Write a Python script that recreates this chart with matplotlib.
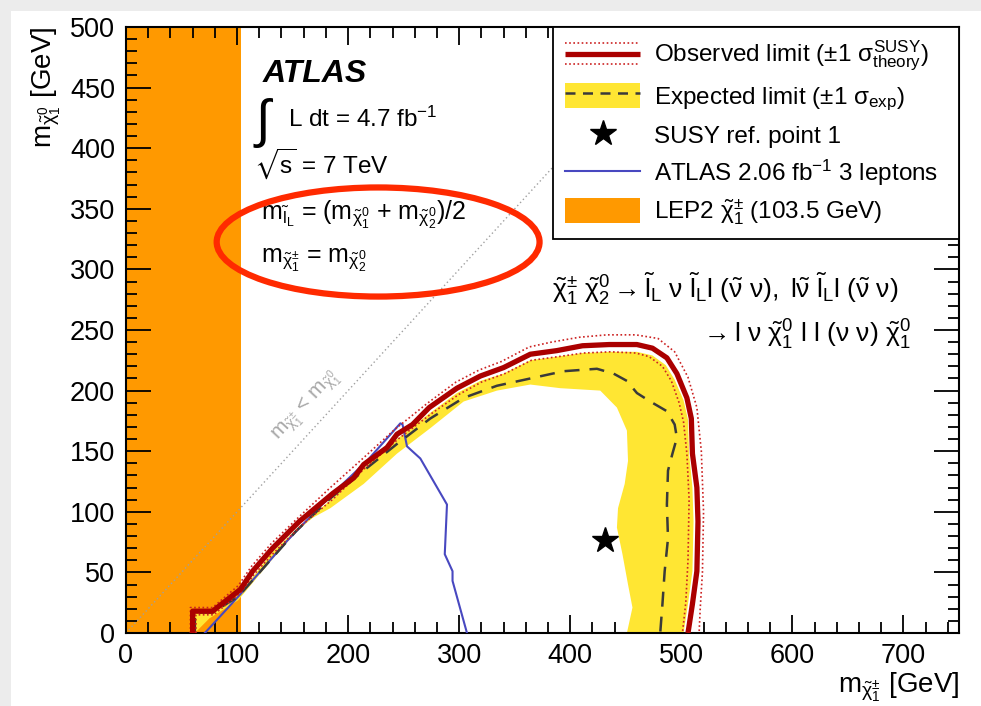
import matplotlib
matplotlib.use("Agg")
import matplotlib.pyplot as plt
from matplotlib.patches import Patch, Ellipse, Rectangle
from matplotlib.lines import Line2D
from matplotlib.legend_handler import HandlerBase
from matplotlib.ticker import MultipleLocator

plt.rcParams["font.family"] = ["Liberation Sans", "DejaVu Sans"]
plt.rcParams["mathtext.fontset"] = "custom"
plt.rcParams["mathtext.rm"] = "Liberation Sans"
plt.rcParams["mathtext.it"] = "Liberation Sans"
plt.rcParams["mathtext.sf"] = "Liberation Sans"
plt.rcParams["mathtext.bf"] = "Liberation Sans:bold"
plt.rcParams["mathtext.fallback"] = "stixsans"

# LEP2 chargino limit [GeV]
lep2_limit = 103.5

# observed 95% CL limit (m_chargino, m_neutralino)
obs_x = [60, 60, 78, 103, 114, 132, 156, 186, 205, 214, 235, 244, 258, 273, 298, 319, 340, 364, 388, 411,
         435, 460, 474, 487, 496, 505, 509, 510, 514, 515, 514, 510, 506]
obs_y = [0, 18, 18, 36, 51, 70, 92, 115, 128, 139, 153, 164, 172, 186, 202, 212, 219, 230, 233, 237,
         238, 238, 235, 227, 214, 194, 177, 148, 120, 92, 51, 24, 0]

# observed +1 sigma theory
up_x = [58, 58, 78, 101, 113, 131, 156, 184, 212, 242, 272, 297, 318, 338, 363, 383, 408, 433, 459, 479,
        494, 506, 514, 518, 520, 519, 517, 516]
up_y = [0, 21, 21, 39, 55, 74, 96, 120, 143, 168, 190, 207, 217, 224, 236, 240, 244, 246, 246, 243,
        232, 211, 186, 150, 100, 50, 20, 0]

# observed -1 sigma theory
dn_x = [63, 63, 79, 103, 115, 133, 157, 187, 214, 245, 275, 300, 320, 341, 365, 389, 412, 436, 459, 471,
        483, 491, 498, 502, 505, 507, 506, 504, 501]
dn_y = [0, 15, 15, 33, 48, 66, 88, 111, 135, 160, 181, 197, 207, 214, 225, 228, 231, 232, 231, 228,
        220, 208, 190, 174, 148, 110, 60, 25, 0]

# expected limit
exp_x = [62, 62, 78, 101, 126, 153, 184, 214, 244, 274, 304, 334, 364, 394, 424, 439, 451, 460, 472, 487,
         494, 496, 492, 488, 487, 488, 485, 483, 481]
exp_y = [0, 17, 17, 30, 56, 84, 111, 134, 156, 177, 194, 204, 210, 216, 218, 214, 208, 198, 191, 183,
         172, 161, 148, 134, 106, 78, 51, 24, 0]

# expected +-1 sigma band: outer edge, then inner edge
band_out_x = [60, 62, 78, 101, 131, 156, 186, 213, 244, 273, 298, 319, 340, 364, 388, 411, 435, 460, 474, 486,
              494, 502, 506, 507, 510, 511, 510, 506, 502]
band_out_y = [0, 16, 17, 31, 66, 88, 111, 135, 160, 181, 198, 208, 214, 225, 228, 231, 232, 232, 229, 221,
              209, 192, 176, 148, 120, 92, 51, 24, 0]
band_in_x = [451, 456, 452, 447, 442, 443, 449, 452, 451, 442, 427, 391, 364, 334, 304, 274, 244, 214, 184, 168,
             154, 131, 101, 75, 62]
band_in_y = [0, 21, 40, 65, 87, 103, 123, 142, 167, 186, 200, 202, 205, 200, 191, 169, 148, 123, 103, 95,
             84, 60, 27, 12, 0]

# ATLAS 2.06 fb-1 3 lepton limit
blue_x = [71, 103, 145, 186, 217, 247, 249, 253, 265, 289, 287, 294, 294, 307]
blue_y = [0, 32, 76, 115, 142, 173, 172, 154, 144, 106, 65, 51, 43, 0]

# SUSY reference point 1
ref_x = [431]
ref_y = [76.5]

# kinematic boundary m_chargino = m_neutralino
diag = [0, 750]

c_orange = "#ff9900"
c_yellow = "#ffe633"
c_obs = "#aa0000"
c_theo = "#cc2222"
c_exp = "#3a3a3a"
c_blue = "#4848c0"

fig = plt.figure(figsize=(9.81, 7.06), dpi=100, facecolor="white")
# thin grey margin along the top and left edge
fig.add_artist(Rectangle((0, 1 - 11 / 706), 1, 11 / 706, transform=fig.transFigure,
                         facecolor="#ececec", edgecolor="none", zorder=-10))
fig.add_artist(Rectangle((0, 0), 11 / 981, 1, transform=fig.transFigure,
                         facecolor="#ececec", edgecolor="none", zorder=-10))
ax = fig.add_axes([0.12844, 0.1034, 0.84913, 0.85836])

ax.axvspan(0, lep2_limit, color=c_orange, lw=0, zorder=1)
ax.plot(diag, diag, ls=(0, (1, 2)), color="#a0a0a0", lw=1.0, zorder=1.2)

ax.fill(band_out_x + band_in_x, band_out_y + band_in_y, color=c_yellow, lw=0, zorder=2)
ax.plot(blue_x, blue_y, color=c_blue, lw=1.5, zorder=3)
ax.plot(exp_x, exp_y, color=c_exp, lw=1.8, dashes=(6, 4), zorder=4)
theo_style = dict(color=c_theo, lw=1.2, ls=(0, (1, 1.5)))
obs_style = dict(color=c_obs, lw=3.8, solid_capstyle="butt")
ax.plot(up_x, up_y, zorder=4.5, **theo_style)
ax.plot(dn_x, dn_y, zorder=4.5, **theo_style)
obs_line, = ax.plot(obs_x, obs_y, zorder=5, **obs_style)
star, = ax.plot(ref_x, ref_y, ls="none", marker="*", ms=19, color="black", zorder=6)

ax.set_xlim(0, 750)
ax.set_ylim(0, 500)
ax.xaxis.set_major_locator(MultipleLocator(100))
ax.xaxis.set_minor_locator(MultipleLocator(20))
ax.yaxis.set_major_locator(MultipleLocator(50))
ax.yaxis.set_minor_locator(MultipleLocator(10))
ax.tick_params(which="both", direction="in", top=True, right=True, width=1.3, labelsize=19.5)
ax.tick_params(axis="x", which="major", length=13, pad=7)
ax.tick_params(axis="x", which="minor", length=8)
ax.tick_params(axis="y", which="major", length=18, pad=8)
ax.tick_params(axis="y", which="minor", length=8)
for s in ax.spines.values():
    s.set_linewidth(1.5)

ax.set_xlabel(r"m$_{\tilde{\chi}_1^{\pm}}$ [GeV]", fontsize=20, loc="right", labelpad=1)
ax.set_ylabel(r"m$_{\tilde{\chi}_1^{0}}$ [GeV]", fontsize=20, loc="top", labelpad=5)

# labels
ax.text(123, 455, "ATLAS", fontsize=23, fontweight="bold", fontstyle="italic", va="baseline", zorder=6)
ax.text(114, 421, r"$\int$", fontsize=38, va="center", zorder=6)
ax.text(146, 417.5, r"L dt = 4.7 fb$^{-1}$", fontsize=17.5, va="baseline", zorder=6)
ax.text(115, 379.5, r"$\sqrt{\mathrm{s}}$ = 7 TeV", fontsize=17.5, va="baseline", zorder=6)
ax.text(121.5, 341, r"m$_{\tilde{l}_L}$ = (m$_{\tilde{\chi}_1^0}$ + m$_{\tilde{\chi}_2^0}$)/2",
        fontsize=18, va="baseline", zorder=6)
ax.text(121.5, 305, r"m$_{\tilde{\chi}_1^{\pm}}$ = m$_{\tilde{\chi}_2^0}$", fontsize=18, va="baseline", zorder=6)
ax.text(384, 276, r"$\tilde{\chi}_1^{\pm}\ \tilde{\chi}_2^0 \rightarrow \tilde{l}_L\ \nu\ \tilde{l}_L l\ "
        r"(\tilde{\nu}\ \nu),\ l \tilde{\nu}\ \tilde{l}_L l\ (\tilde{\nu}\ \nu)$",
        fontsize=19, va="baseline", zorder=6)
ax.text(706.5, 240, r"$\rightarrow l\ \nu\ \tilde{\chi}_1^0\ l\ l\ (\nu\ \nu)\ \tilde{\chi}_1^0$",
        fontsize=19, va="baseline", ha="right", zorder=6)
ax.text(163, 186.5, r"m$_{\tilde{\chi}_1^{\pm}}$ < m$_{\tilde{\chi}_1^0}$", fontsize=15, color="#a8a8a8",
        rotation=47, ha="center", va="center", rotation_mode="anchor", zorder=6)

ax.add_patch(Ellipse((227, 322.6), 290.7, 90, fill=False, edgecolor="#ff2a00", lw=4.5,
                     zorder=7, clip_on=False))


class ObsHandler(HandlerBase):
    # thick observed line between the two dotted theory lines
    def create_artists(self, legend, orig_handle, xdescent, ydescent, width, height, fontsize, trans):
        xs = [-xdescent, -xdescent + width]
        yc = height / 2 - ydescent
        off = 0.42 * height
        arts = []
        for dy, kw in ((off, theo_style), (0, obs_style), (-off, theo_style)):
            ln = Line2D(xs, [yc + dy] * 2, **kw)
            ln.set_transform(trans)
            arts.append(ln)
        return arts


exp_handle = (Patch(facecolor=c_yellow, edgecolor="none"),
              Line2D([], [], color=c_exp, lw=1.8, dashes=(4, 3)))
blue_handle = Line2D([], [], color=c_blue, lw=1.5)
lep_handle = Patch(facecolor=c_orange, edgecolor="none")
handles = [obs_line, exp_handle, star, blue_handle, lep_handle]
labels = [r"Observed limit ($\pm$1 $\sigma^{\mathrm{SUSY}}_{\mathrm{theory}}$)",
          r"Expected limit ($\pm$1 $\sigma_{\mathrm{exp}}$)",
          "SUSY ref. point 1",
          r"ATLAS 2.06 fb$^{-1}$ 3 leptons",
          r"LEP2 $\tilde{\chi}_1^{\pm}$ (103.5 GeV)"]
leg = ax.legend(handles, labels, handler_map={obs_line: ObsHandler()},
                loc="upper left", bbox_to_anchor=(0.5126, 0.0, 0.4874, 1.0), mode="expand",
                borderaxespad=0, fontsize=17.5, frameon=True, fancybox=False, shadow=False,
                framealpha=1, edgecolor="black", handlelength=3.1, handleheight=1.2,
                handletextpad=0.55, labelspacing=0.4, borderpad=0.5)
leg.get_frame().set_linewidth(1.3)
leg.set_zorder(10)

fig.savefig("out.png", dpi=100, facecolor=fig.get_facecolor())
